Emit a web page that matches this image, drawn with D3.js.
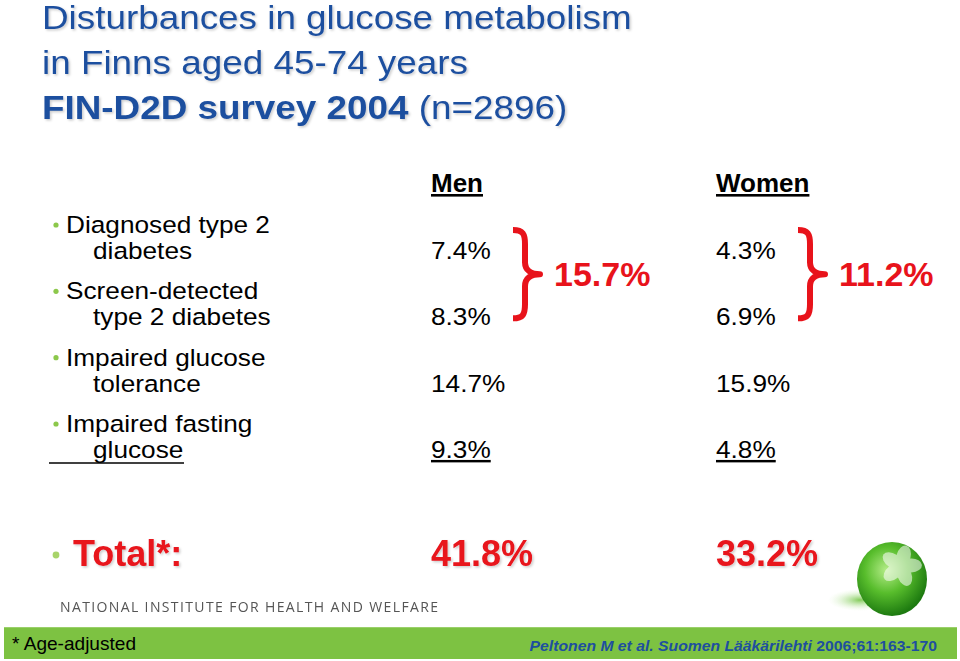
<!DOCTYPE html>
<html><head><meta charset="utf-8">
<script src="https://cdn.jsdelivr.net/npm/d3@7"></script>
<style>
html,body{margin:0;padding:0;background:#fff;}
svg{display:block;font-family:"Liberation Sans",Arial,sans-serif;}
</style></head><body>
<svg id="c" width="960" height="661"></svg>
<script>
const titleLines = ["Disturbances in glucose metabolism", "in Finns aged 45-74 years"];
const categories = [["Diagnosed type 2", "diabetes"], ["Screen-detected", "type 2 diabetes"], ["Impaired glucose", "tolerance"], ["Impaired fasting", "glucose"]];
const groups = ["Men", "Women"];
const menValues = [7.4, 8.3, 14.7, 9.3];
const womenValues = [4.3, 6.9, 15.9, 4.8];
const diabetesTotals = [15.7, 11.2];
const totals = [41.8, 33.2];

const svg = d3.select("#c");
const blue = "#1e4f9f", red = "#e8131b", green = "#7dc242";

function T(parent, x, y, sx, size) {
  return parent.append("text").attr("transform", `translate(${x},${y}) scale(${sx},1)`).style("font-size", size + "px");
}

const defs = svg.append("defs");
const f = defs.append("filter").attr("id","sh").attr("x","-5%").attr("y","-20%").attr("width","110%").attr("height","140%");
f.append("feDropShadow").attr("dx",1.5).attr("dy",1.5).attr("stdDeviation",0.8).attr("flood-color","#000").attr("flood-opacity",0.2);
const rg = defs.append("radialGradient").attr("id","ball").attr("cx","42%").attr("cy","38%").attr("r","62%");
rg.append("stop").attr("offset","0%").attr("stop-color","#b4ec88");
rg.append("stop").attr("offset","50%").attr("stop-color","#58bd2c");
rg.append("stop").attr("offset","100%").attr("stop-color","#1d7a10");
const sg = defs.append("radialGradient").attr("id","shd");
sg.append("stop").attr("offset","0%").attr("stop-color","#6cc23c").attr("stop-opacity",0.85);
sg.append("stop").attr("offset","100%").attr("stop-color","#dff4d0").attr("stop-opacity",0);

// title
const t = svg.append("g").attr("filter","url(#sh)").attr("fill",blue);
titleLines.forEach((l,i)=> T(t, 42, 29+i*45, 1.10, 33.5).text(l));
const t3 = T(t, 42, 119, 1.10, 33.5);
t3.append("tspan").attr("font-weight","bold").text("FIN-D2D survey 2004 ");
t3.append("tspan").text("(n=2896)");

const y = d3.scalePoint().domain(d3.range(categories.length)).range([233, 432]);
const x = d3.scaleOrdinal().domain(groups).range([431, 716]);
const fmt = v => d3.format(".1f")(v) + "%";
const BS = 1.07, BF = 24.5;

groups.forEach(g => {
  T(svg, x(g), 192, 1, 26).attr("font-weight","bold").attr("text-decoration","underline").attr("fill","#000").text(g);
});

const rows = svg.append("g");
categories.forEach((d,i) => {
  rows.append("circle").attr("cx",56).attr("cy",y(i)-8).attr("r",2.6).attr("fill","#8cc84b");
  T(rows, 66, y(i), BS, BF).text(d[0]);
  T(rows, 93, y(i)+26, BS, BF).text(d[1]);
});
const last = categories.length-1;
svg.append("line").attr("x1",49).attr("x2",184).attr("y1",y(last)+31).attr("y2",y(last)+31).attr("stroke","#000").attr("stroke-width",1.5);

[menValues, womenValues].forEach((vals, gi) => {
  const gx = x(groups[gi]);
  vals.forEach((v,i) => {
    T(svg, gx, y(i)+26, BS, BF).attr("text-decoration", i===vals.length-1 ? "underline" : null).text(fmt(v));
  });
  const xl = gx + 82, xs = gx + 94, xt = gx + 109;
  const y0 = y(0)-3, y1 = y(1)+19, ym = (y0+y1)/2;
  const p = d3.path();
  p.moveTo(xl, y0);
  p.bezierCurveTo(xs-2, y0, xs, y0+4, xs, y0+14);
  p.lineTo(xs, ym-12);
  p.bezierCurveTo(xs, ym-4, xs+6, ym, xt, ym);
  p.bezierCurveTo(xs+6, ym, xs, ym+4, xs, ym+12);
  p.lineTo(xs, y1-14);
  p.bezierCurveTo(xs, y1-4, xs-2, y1, xl, y1);
  svg.append("path").attr("d",p.toString()).attr("fill","none").attr("stroke",red).attr("stroke-width",6).attr("stroke-linejoin","round");
  T(svg, gx+123, ym+12, 1, 34).attr("fill",red).attr("font-weight","bold").text(fmt(diabetesTotals[gi]));
});

const tg = svg.append("g").attr("filter","url(#sh)");
svg.append("circle").attr("cx",56).attr("cy",555).attr("r",3.4).attr("fill","#a8d46a");
T(tg, 73, 566, 1, 36).attr("fill",red).attr("font-weight","bold").text("Total*:");
totals.forEach((v,i) => {
  T(tg, x(groups[i]), 566, 1, 36).attr("fill",red).attr("font-weight","bold").text(fmt(v));
});

svg.append("text").attr("x",60).attr("y",612).attr("fill","#555").style("font-family","'Open Sans','Noto Sans',sans-serif").style("font-size","14px").attr("textLength",378).text("NATIONAL INSTITUTE FOR HEALTH AND WELFARE");

svg.append("ellipse").attr("cx",860).attr("cy",600).attr("rx",32).attr("ry",11).attr("fill","url(#shd)");
svg.append("ellipse").attr("cx",892).attr("cy",579).attr("rx",35).attr("ry",37).attr("fill","url(#ball)");
const petal = svg.append("g").attr("transform","translate(901,566)").attr("fill","#fff").attr("opacity",0.55);
[0,72,144,216,288].forEach(a=> petal.append("ellipse").attr("cx",0).attr("cy",-10).attr("rx",7).attr("ry",11).attr("transform",`rotate(${a+15})`));

svg.append("rect").attr("x",4).attr("y",628).attr("width",953).attr("height",31).attr("fill",green);
svg.append("line").attr("x1",4).attr("x2",957).attr("y1",627.5).attr("y2",627.5).attr("stroke","#9ad06a").attr("stroke-width",1);
T(svg, 12, 650, 1.06, 18).attr("fill","#000").text("* Age-adjusted");
const cit = T(svg, 937, 651, 1.05, 15).attr("text-anchor","end").attr("fill",blue).attr("font-weight","bold");
cit.append("tspan").attr("font-style","italic").text("Peltonen M et al. Suomen Lääkärilehti");
cit.append("tspan").text(" 2006;61:163-170");
</script>
</body></html>
